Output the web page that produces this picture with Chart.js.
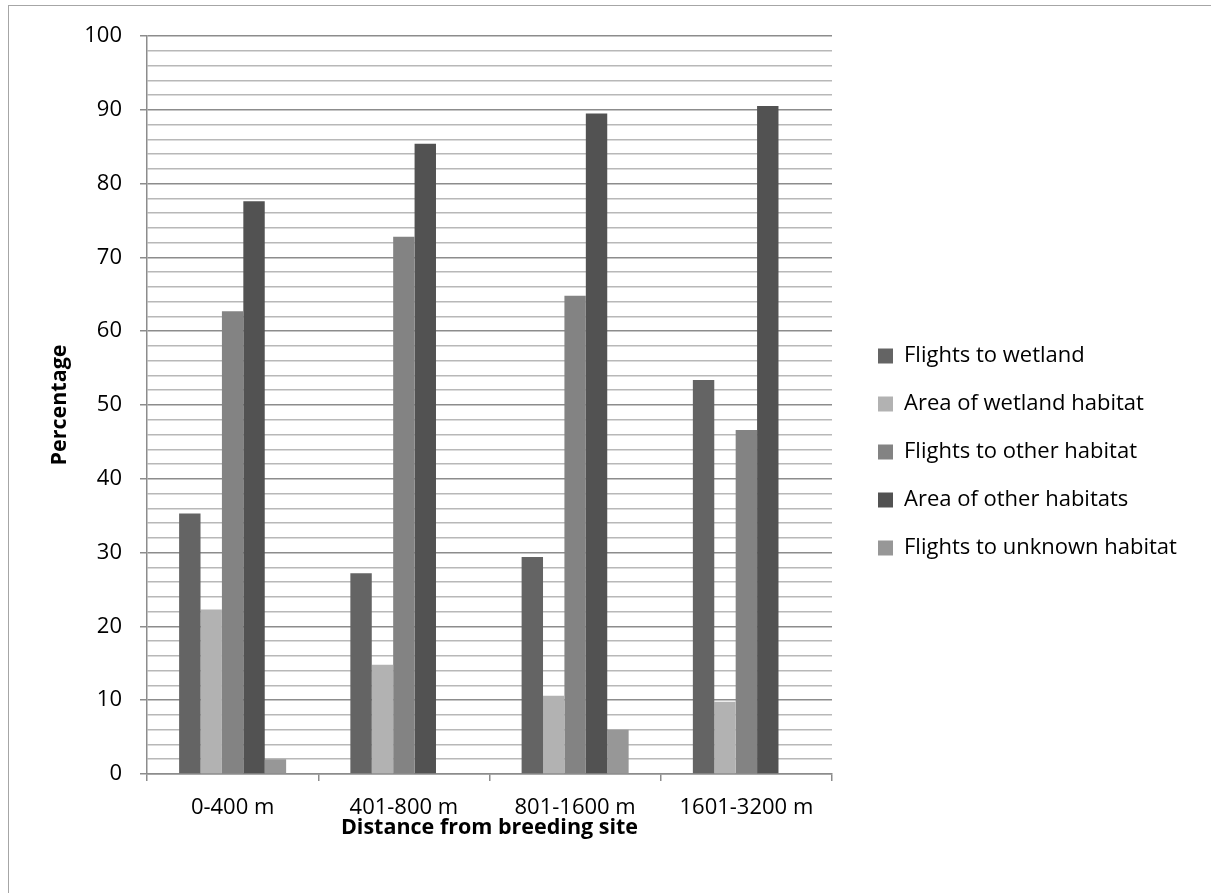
<!DOCTYPE html>
<html><head><meta charset="utf-8">
<script src="https://cdn.jsdelivr.net/npm/chart.js@4.4.1/dist/chart.umd.min.js"></script>
<style>
html,body{margin:0;padding:0;background:#fff;overflow:hidden;width:1211px;height:893px}
#frame{position:absolute;left:8px;top:5px;width:1400px;height:1100px;border:1px solid #a6a6a6;box-sizing:border-box}
#wrap{position:absolute;left:0;top:0;width:1211px;height:893px}
</style></head><body>
<div id="frame"></div>
<div id="wrap"><canvas id="c" width="1211" height="893"></canvas></div>
<script>
const categories = ['0-400 m', '401-800 m', '801-1600 m', '1601-3200 m'];
const flightsToWetland = [35.3, 27.2, 29.4, 53.4];
const areaOfWetlandHabitat = [22.3, 14.8, 10.6, 9.8];
const flightsToOtherHabitat = [62.7, 72.8, 64.8, 46.6];
const areaOfOtherHabitats = [77.6, 85.4, 89.5, 90.5];
const flightsToUnknownHabitat = [2.0, 0, 6.0, 0];
const yMin = 0, yMax = 100, yMinorStep = 2, yMajorStep = 10;

const FONT = "'Open Sans', 'Liberation Sans', sans-serif";

const legendPlace = {
  id: 'legendPlace',
  afterLayout(chart) {
    const lg = chart.legend;
    if (!lg || !lg.columnSizes || !lg.columnSizes.length) return;
    const p = lg.options.labels.padding;
    lg.left = 878 - p; lg.right = 1211;
    lg.top = 345 - p; lg.bottom = lg.top + p + lg.columnSizes[0].height;
  }
};

new Chart(document.getElementById('c'), {
  type: 'bar',
  data: {
    labels: categories,
    datasets: [
      {label: 'Flights to wetland', data: flightsToWetland, backgroundColor: '#646464'},
      {label: 'Area of wetland habitat', data: areaOfWetlandHabitat, backgroundColor: '#b2b2b2'},
      {label: 'Flights to other habitat', data: flightsToOtherHabitat, backgroundColor: '#838383'},
      {label: 'Area of other habitats', data: areaOfOtherHabitats, backgroundColor: '#525252'},
      {label: 'Flights to unknown habitat', data: flightsToUnknownHabitat, backgroundColor: '#979797'}
    ]
  },
  options: {
    responsive: false,
    animation: false,
    events: [],
    layout: {padding: {top: 36, right: 379, left: 0, bottom: 0}},
    datasets: {bar: {categoryPercentage: 0.625, barPercentage: 1.0, borderWidth: 0}},
    plugins: {
      tooltip: {enabled: false},
      legend: {
        position: 'chartArea',
        labels: {
          boxWidth: 15, boxHeight: 15, padding: 26,
          color: '#000',
          font: {family: FONT, size: 22}
        }
      }
    },
    scales: {
      x: {
        afterFit(s) { s.height = 119; s.paddingLeft = 0; s.paddingRight = 0; },
        grid: {display: true, drawOnChartArea: false, drawTicks: true, tickLength: 7, offset: true, color: '#8c8c8c', lineWidth: 1.5},
        border: {display: true, color: '#8c8c8c', width: 1.5},
        ticks: {color: '#000', padding: 14, font: {family: FONT, size: 22}, maxRotation: 0},
        title: {display: true, text: 'Distance from breeding site', color: '#000',
                font: {family: FONT, size: 21.5, weight: 'bold'}, padding: {top: 0, bottom: 52}}
      },
      y: {
        min: yMin, max: yMax,
        afterFit(s) { s.width = 147; s.paddingTop = 0; s.paddingBottom = 0; },
        grid: {
          color: c => (c.tick && c.tick.value % yMajorStep === 0) ? '#8c8c8c' : '#b8b8b8',
          tickColor: c => (c.tick && c.tick.value % yMajorStep === 0) ? '#8c8c8c' : 'rgba(0,0,0,0)',
          lineWidth: 1.5, tickLength: 7
        },
        border: {display: true, color: '#8c8c8c', width: 1.5},
        ticks: {
          stepSize: yMinorStep, autoSkip: false, maxTicksLimit: 1000,
          color: '#000', padding: 18, font: {family: FONT, size: 22},
          callback: v => (v % yMajorStep === 0) ? String(v) : ''
        },
        title: {display: true, text: 'Percentage', color: '#000',
                font: {family: FONT, size: 21.5, weight: 'bold'}, padding: {top: 47, bottom: 0}}
      }
    }
  },
  plugins: [legendPlace]
});
</script>
</body></html>
